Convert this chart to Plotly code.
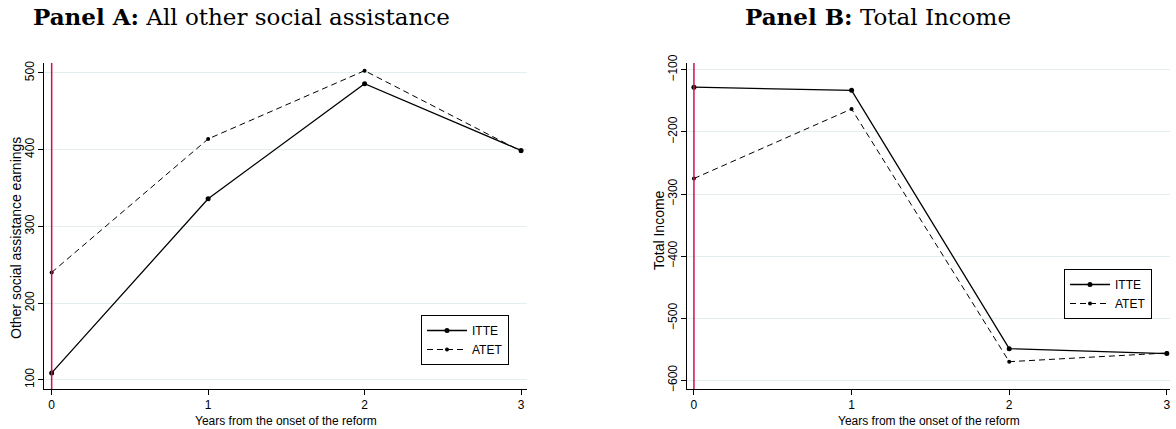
import plotly.graph_objects as go

# Event-time axis (years since the reform)
years = [0, 1, 2, 3]

# Panel A: other social assistance earnings
a_itte = [109, 336, 486, 399]
a_atet = [240, 414, 503, 398]

# Panel B: total income
b_itte = [-128, -133, -549, -557]
b_atet = [-275, -163, -570, -556]

a_yticks = [100, 200, 300, 400, 500]
b_yticks = [-100, -200, -300, -400, -500, -600]

W, H = 1176, 429
FONT = "Liberation Sans, Arial, sans-serif"
SERIF = "DejaVu Serif, serif"
GRID = "#e4edef"
RED = "#d0104a"


def px_x(v):
    return v / W


def px_y(v):
    return 1 - v / H


fig = go.Figure()

panels = [
    ("x", "y", a_itte, a_atet, "legend"),
    ("x2", "y2", b_itte, b_atet, "legend2"),
]
for xa, ya, itte, atet, leg in panels:
    fig.add_trace(go.Scatter(
        x=years, y=itte, xaxis=xa, yaxis=ya, name="ITTE", legend=leg,
        mode="lines+markers",
        line=dict(color="black", width=1.3),
        marker=dict(color="black", size=5),
    ))
    fig.add_trace(go.Scatter(
        x=years, y=atet, xaxis=xa, yaxis=ya, name="ATET", legend=leg,
        mode="lines+markers",
        line=dict(color="black", width=1, dash="6px,4px"),
        marker=dict(color="black", size=4),
    ))

xcommon = dict(
    tickvals=years, ticks="outside", ticklen=5, tickcolor="black",
    showline=True, linecolor="black", linewidth=1, showgrid=False,
    zeroline=False, tickfont=dict(family=FONT, size=12, color="black"),
    automargin=False,
)
ycommon = dict(
    ticks="outside", ticklen=5, tickcolor="black", tickangle=-90,
    showline=True, linecolor="black", linewidth=1,
    showgrid=True, gridcolor=GRID, gridwidth=1, zeroline=False,
    tickfont=dict(family=FONT, size=12, color="black"),
    ticklabelstandoff=-1,
    automargin=False,
)

ydom = [px_y(389), px_y(63)]
fig.update_layout(
    xaxis=dict(domain=[px_x(44), px_x(527)], range=[-0.049, 3.038],
               anchor="y", **xcommon),
    yaxis=dict(domain=ydom, range=[88, 513], tickvals=a_yticks,
               anchor="x", **ycommon),
    xaxis2=dict(domain=[px_x(687), px_x(1170)], range=[-0.044, 3.02],
                anchor="y2", **xcommon),
    yaxis2=dict(domain=ydom, range=[-614, -89], tickvals=b_yticks,
                anchor="x2", **ycommon),
)

# Reform onset marker at year 0
for xa, ya in [("x", "y"), ("x2", "y2")]:
    fig.add_shape(type="line", xref=xa, yref=f"{ya} domain",
                  x0=0, x1=0, y0=0, y1=1,
                  line=dict(color=RED, width=1.5), layer="above")

legend_style = dict(
    bgcolor="white", bordercolor="black", borderwidth=1,
    font=dict(family=FONT, size=12, color="black"),
    xanchor="left", yanchor="top", tracegroupgap=0,
    itemwidth=40,
)
fig.update_layout(
    legend=dict(x=px_x(421), y=px_y(315), **legend_style),
    legend2=dict(x=px_x(1064), y=px_y(269), **legend_style),
)

annotations = [
    dict(text="<b>Panel A:</b> All other social assistance",
         x=px_x(241), y=px_y(17), font=dict(family=SERIF, size=23)),
    dict(text="<b>Panel B:</b> Total Income",
         x=px_x(878), y=px_y(17), font=dict(family=SERIF, size=23)),
    dict(text="Years from the onset of the reform",
         x=px_x(286), y=px_y(421), font=dict(family=FONT, size=12)),
    dict(text="Years from the onset of the reform",
         x=px_x(929), y=px_y(421), font=dict(family=FONT, size=12)),
    dict(text="Other social assistance earnings", textangle=-90,
         x=px_x(16), y=px_y(238), font=dict(family=FONT, size=14)),
    dict(text="Total Income", textangle=-90,
         x=px_x(659), y=px_y(230), font=dict(family=FONT, size=14)),
]
for a in annotations:
    a.update(xref="paper", yref="paper", showarrow=False,
             xanchor="center", yanchor="middle")
    a["font"]["color"] = "black"
fig.update_layout(annotations=annotations)

fig.update_layout(
    width=W, height=H, margin=dict(l=0, r=0, t=0, b=0),
    paper_bgcolor="white", plot_bgcolor="white",
    showlegend=True,
)

fig.write_html("out.html")
